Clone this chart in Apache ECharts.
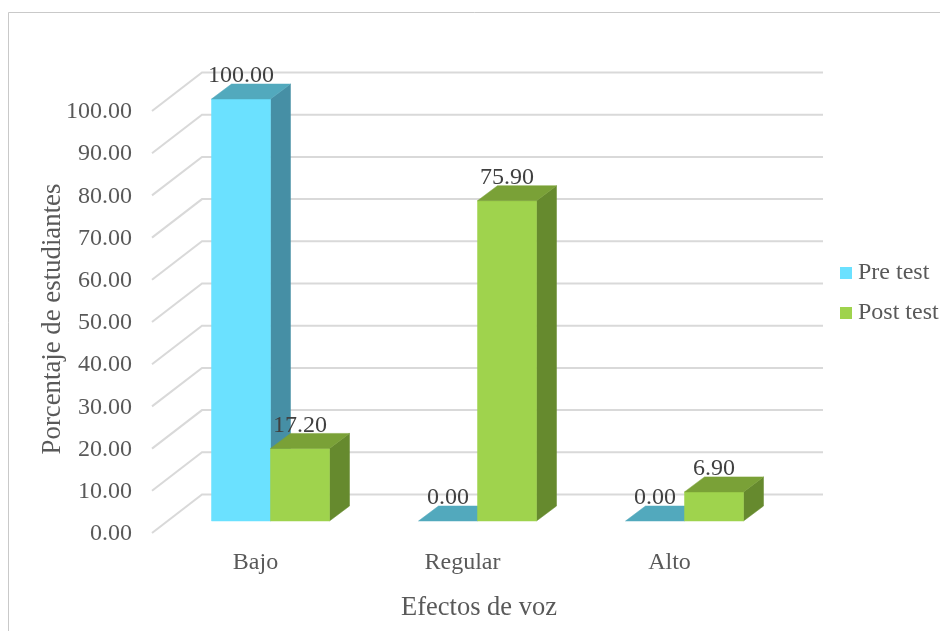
<!DOCTYPE html>
<html><head><meta charset="utf-8">
<style>html,body{margin:0;padding:0;background:#fff}#c{width:940px;height:631px}</style>
<script src="https://cdn.jsdelivr.net/npm/echarts@6/dist/echarts.min.js"></script>
</head><body><div id="c"></div>
<script>
const categories = ['Bajo','Regular','Alto'];
const preTest = [100.00, 0.00, 0.00];
const postTest = [17.20, 75.90, 6.90];
const yTicks = [0,10,20,30,40,50,60,70,80,90,100];

const FONT = '"Liberation Serif","Times New Roman",serif';
const WALL = [50,-38.5], SHIFT = [15,-12], DEPTH = [20,-15];
const BAR_FRAC = 59/207;

function poly(points, fill){
  return {type:'polygon', shape:{points}, style:{fill, stroke:fill, lineWidth:0.5}};
}
function barRenderer(side, colors){
  return function(params, api){
    const idx = api.value(0), val = api.value(1);
    const base = api.coord([idx,0]), top = api.coord([idx,val]);
    const w = api.size([1,0])[0]*BAR_FRAC;
    const x0 = base[0]+SHIFT[0]+(side<0?-w:0), x1 = x0+w;
    const y0 = base[1]+SHIFT[1], y1 = top[1]+SHIFT[1];
    const dx = DEPTH[0], dy = DEPTH[1];
    const children = [];
    if (val>0){
      children.push(poly([[x1,y0],[x1+dx,y0+dy],[x1+dx,y1+dy],[x1,y1]], colors.side));
      children.push(poly([[x0,y0],[x1,y0],[x1,y1],[x0,y1]], colors.front));
    }
    children.push(poly([[x0,y1],[x1,y1],[x1+dx,y1+dy],[x0+dx,y1+dy]], colors.top));
    children.push({type:'text', z2:10, style:{text:val.toFixed(2), x:(x0+x1)/2, y:y1-23,
      align:'center', verticalAlign:'middle', font:'24px '+FONT, fill:'#404040'}});
    return {type:'group', children};
  };
}
const PRE = {front:'#6be1ff', side:'#468fa5', top:'#52a9bd'};
const POST = {front:'#9fd34d', side:'#668a2e', top:'#7aa137'};

const chart = echarts.init(document.getElementById('c'), null, {renderer:'canvas'});
chart.setOption({
  animation:false,
  backgroundColor:'#fff',
  graphic:[{type:'rect', silent:true, z:-10, shape:{x:8.5,y:12.5,width:960,height:660},
    style:{fill:'#fff', stroke:'#c9c9c9', lineWidth:1}}],
  grid:{left:152, right:167, top:111, bottom:98, outerBoundsMode:'none'},
  legend:{orient:'vertical', left:835, top:256, itemWidth:12, itemHeight:12, itemGap:16,
    icon:'rect', textStyle:{fontFamily:FONT, fontSize:24, color:'#595959', padding:[0,0,0,1]},
    data:['Pre test','Post test']},
  xAxis:{type:'category', data:categories, axisLine:{show:false}, axisTick:{show:false},
    axisLabel:{fontFamily:FONT, fontSize:24, color:'#595959', margin:18},
    name:'Efectos de voz', nameLocation:'middle', nameGap:62,
    nameTextStyle:{fontFamily:FONT, fontSize:26.5, color:'#595959', padding:[0,0,0,33]}},
  yAxis:{type:'value', min:0, max:100, interval:10, axisLine:{show:false}, axisTick:{show:false},
    splitLine:{show:false},
    axisLabel:{fontFamily:FONT, fontSize:24, color:'#595959', margin:20, verticalAlign:'top', lineHeight:2, formatter:v=>v.toFixed(2)},
    name:'Porcentaje de estudiantes', nameLocation:'middle', nameGap:86, nameMoveOverlap:false,
    nameTextStyle:{fontFamily:FONT, fontSize:26.8, color:'#595959', padding:[0,0,0,6]}},
  series:[
    {type:'custom', silent:true, z:1, clip:false, data:yTicks.map(t=>[0,t]), encode:{x:0,y:1},
     renderItem(params, api){
       const cs = params.coordSys, y = api.coord([0,api.value(1)])[1];
       const p0=[cs.x,y], p1=[cs.x+WALL[0],y+WALL[1]], p2=[cs.x+cs.width+WALL[0],y+WALL[1]];
       return {type:'polyline', shape:{points:[p0,p1,p2]}, style:{fill:null, stroke:'#d9d9d9', lineWidth:2}};
     }},
    {name:'Pre test', type:'custom', z:2, clip:false, itemStyle:{color:PRE.front},
     data:categories.map((c,i)=>[i,preTest[i]]), encode:{x:0,y:1}, renderItem:barRenderer(-1,PRE)},
    {name:'Post test', type:'custom', z:3, clip:false, itemStyle:{color:POST.front},
     data:categories.map((c,i)=>[i,postTest[i]]), encode:{x:0,y:1}, renderItem:barRenderer(1,POST)}
  ]
});
</script></body></html>
